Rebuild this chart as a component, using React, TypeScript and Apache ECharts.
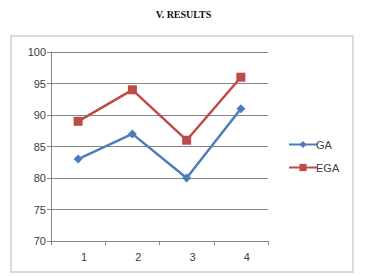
import React, { useEffect, useRef } from "react";
import * as echarts from "echarts";

const categories = ["1", "2", "3", "4"];
const gaValues = [83, 87, 80, 91];
const egaValues = [89, 94, 86, 96];
const seriesNames = ["GA", "EGA"];
const titleText = "V. RESULTS";

export default function App() {
  const ref = useRef<HTMLDivElement>(null);
  useEffect(() => {
    if (!ref.current) return;
    const chart = echarts.init(ref.current, null, { renderer: "svg" });
    const font = "'Liberation Sans', Arial, sans-serif";
    chart.setOption({
      animation: false,
      backgroundColor: "#ffffff",
      title: {
        text: titleText,
        left: "center",
        top: 4,
        textStyle: { fontFamily: "'Liberation Serif', serif", fontWeight: "bold", fontSize: 10, color: "#111" },
      },
      graphic: [
        {
          type: "rect",
          shape: { x: 11, y: 36, width: 342, height: 236 },
          style: { fill: "none", stroke: "#d0d0d0", lineWidth: 1.5 },
          silent: true,
        },
      ],
      legend: {
        orient: "vertical",
        left: 283,
        top: 134,
        itemWidth: 28,
        itemHeight: 9,
        itemGap: 12,
        textStyle: { fontFamily: font, fontSize: 11, color: "#404040", padding: [0, 0, 0, -6] },
        data: seriesNames,
      },
      grid: { left: 51, right: 99, top: 52, bottom: 35 },
      xAxis: {
        type: "category",
        data: categories,
        boundaryGap: true,
        axisLine: { lineStyle: { color: "#868686", width: 1 } },
        axisTick: { show: true, length: 4, lineStyle: { color: "#868686" } },
        axisLabel: { fontFamily: font, fontSize: 11, color: "#404040", margin: 10, padding: [0, 0, 0, 12] },
      },
      yAxis: {
        type: "value",
        min: 70,
        max: 100,
        interval: 5,
        axisLine: { show: true, lineStyle: { color: "#868686", width: 1 } },
        axisTick: { show: true, length: 4, lineStyle: { color: "#868686" } },
        axisLabel: { fontFamily: font, fontSize: 11, color: "#404040", margin: 5 },
        splitLine: { show: true, lineStyle: { color: "#868686", width: 1 } },
      },
      series: [
        {
          name: seriesNames[0],
          type: "line",
          data: gaValues,
          symbol: "diamond",
          symbolSize: 9,
          itemStyle: { color: "#4a7ebb" },
          lineStyle: { color: "#4a7ebb", width: 2.5 },
        },
        {
          name: seriesNames[1],
          type: "line",
          data: egaValues,
          symbol: "rect",
          symbolSize: 9,
          itemStyle: { color: "#be4b48" },
          lineStyle: { color: "#be4b48", width: 2.5 },
        },
      ],
    });
    return () => chart.dispose();
  }, []);
  return (
    <div
      ref={ref}
      style={{ position: "fixed", left: 0, top: 0, width: 367, height: 276 }}
    />
  );
}
